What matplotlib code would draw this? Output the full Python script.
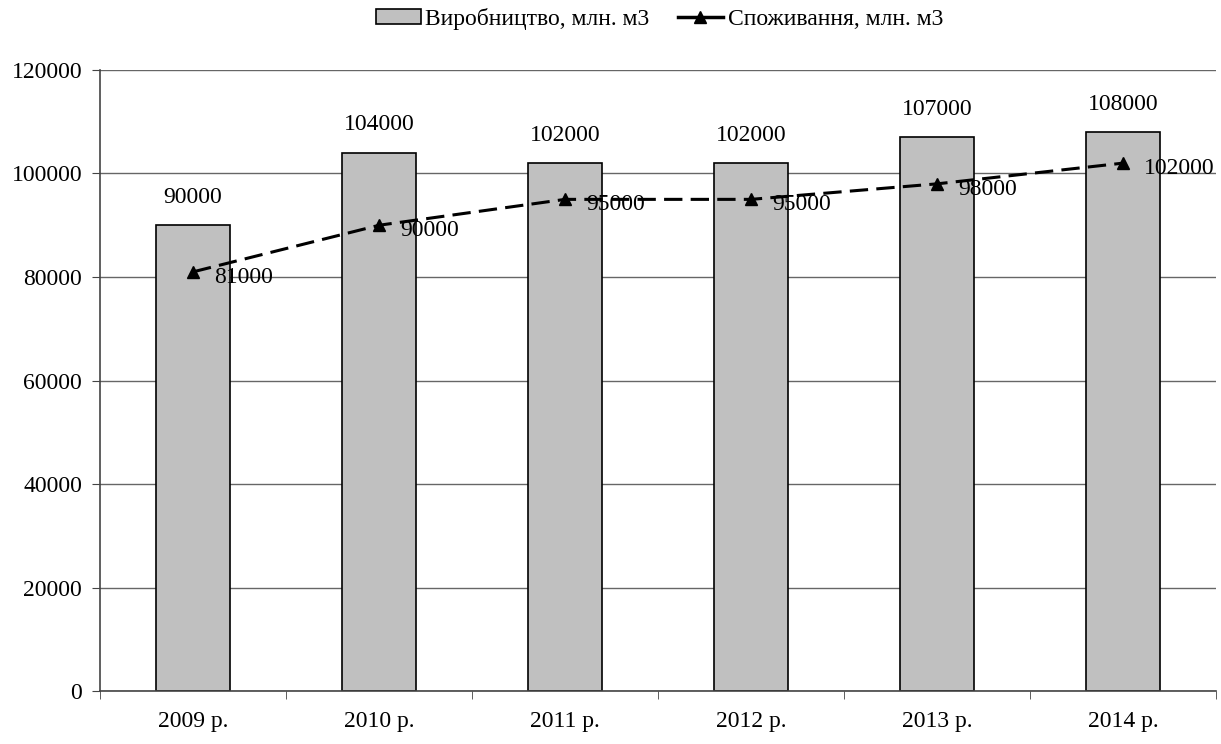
import matplotlib.pyplot as plt
from matplotlib.lines import Line2D
import numpy as np

plt.rcParams['font.family'] = ['Liberation Serif', 'DejaVu Serif']

# дані з графіка
roky = ['2009 р.', '2010 р.', '2011 р.', '2012 р.', '2013 р.', '2014 р.']
vyrobnytstvo = [90000, 104000, 102000, 102000, 107000, 108000]
spozhyvannia = [81000, 90000, 95000, 95000, 98000, 102000]

fs = 17

fig = plt.figure(figsize=(12.21, 7.44), dpi=100)
ax = fig.add_axes([0.082, 0.071, 0.914, 0.835])

x = np.arange(len(roky))
bars = ax.bar(x, vyrobnytstvo, width=0.4, color='#c0c0c0', edgecolor='black',
              linewidth=1.2, label='Виробництво, млн. м3', zorder=2)
ax.plot(x, spozhyvannia, color='black', linestyle=(0, (6, 2.7)), linewidth=2.2,
        marker='^', markersize=9, label='Споживання, млн. м3', zorder=4)

for xi, v in zip(x, vyrobnytstvo):
    ax.annotate(f'{v}', (xi, v), xytext=(0, 20), textcoords='offset points',
                ha='center', va='center', fontsize=fs)
for xi, v in zip(x, spozhyvannia):
    ax.annotate(f'{v}', (xi, v), xytext=(15, -4), textcoords='offset points',
                ha='left', va='center', fontsize=fs, zorder=3)

ax.set_xlim(-0.5, len(roky) - 0.5)
ax.set_ylim(0, 120000)
ax.set_yticks(np.arange(0, 120001, 20000))
ax.set_xticks(x)
ax.set_xticklabels(roky)
ax.set_xticks(np.arange(-0.5, len(roky), 1), minor=True)
ax.tick_params(axis='x', which='major', length=0, pad=14, labelsize=fs)
ax.tick_params(axis='x', which='minor', length=6, direction='out', color='#444444')
ax.tick_params(axis='y', length=6, direction='out', labelsize=fs, pad=7, color='#444444')
ax.yaxis.grid(True, color='#666666', linewidth=1.0, zorder=0)
ax.set_axisbelow(True)

for side in ['top', 'right']:
    ax.spines[side].set_visible(False)
for side in ['left', 'bottom']:
    ax.spines[side].set_color('#444444')
    ax.spines[side].set_linewidth(1.2)

# legenda met een doorgetrokken lijn, zoals in het origineel
lijn_handle = Line2D([], [], color='black', linewidth=2.5, marker='^', markersize=9)
fig.legend([bars, lijn_handle], ['Виробництво, млн. м3', 'Споживання, млн. м3'],
           loc='upper center', bbox_to_anchor=(0.54, 1.018), ncol=2, frameon=False,
           fontsize=fs, handlelength=1.9, handleheight=0.55, handletextpad=0.2,
           columnspacing=1.2)

fig.savefig('out.png', dpi=100)
